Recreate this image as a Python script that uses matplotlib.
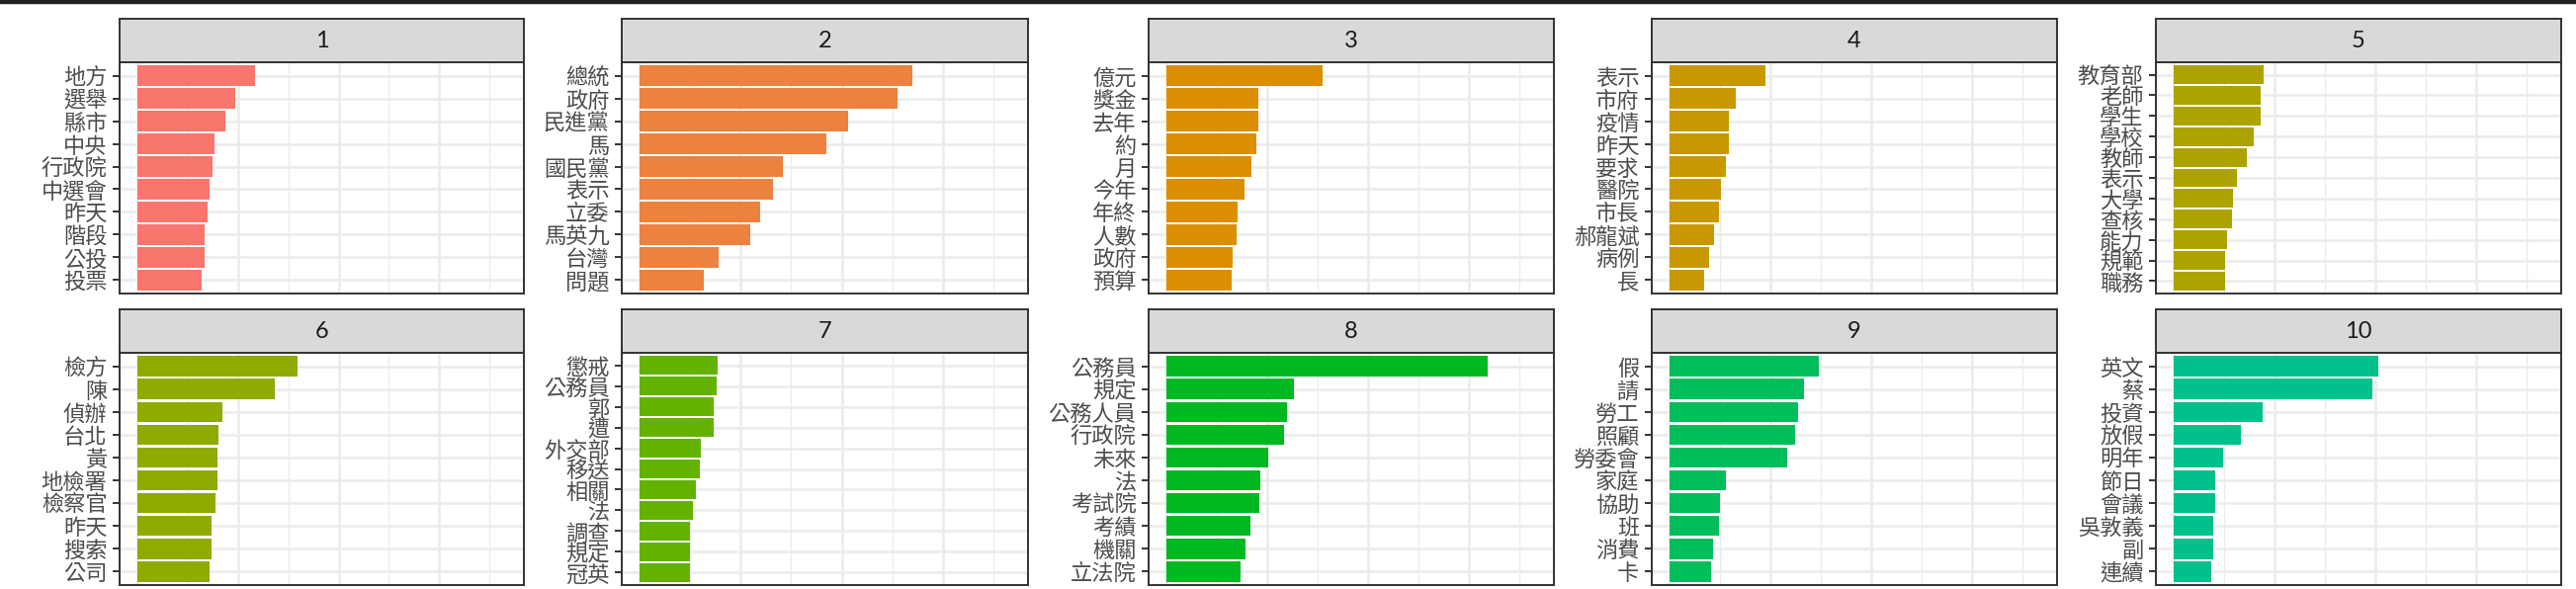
import numpy as np
import matplotlib
matplotlib.use("Agg")
import matplotlib.pyplot as plt
from matplotlib.patches import Rectangle

plt.rcParams['font.family'] = ['Noto Sans CJK TC', 'DejaVu Sans']

# top terms per topic (beta)
topics = ['1', '2', '3', '4', '5', '6', '7', '8', '9', '10']

terms_1 = ['地方', '選舉', '縣市', '中央', '行政院', '中選會', '昨天', '階段', '公投', '投票']
beta_1 = [0.01166, 0.0097, 0.00872, 0.00767, 0.00746, 0.00718, 0.00697, 0.00669, 0.00669, 0.00637]

terms_2 = ['總統', '政府', '民進黨', '馬', '國民黨', '表示', '立委', '馬英九', '台灣', '問題']
beta_2 = [0.02695, 0.02547, 0.02063, 0.01849, 0.01418, 0.01319, 0.01189, 0.01091, 0.00779, 0.00639]

terms_3 = ['億元', '獎金', '去年', '約', '月', '今年', '年終', '人數', '政府', '預算']
beta_3 = [0.01551, 0.00912, 0.00912, 0.00895, 0.00846, 0.00775, 0.00705, 0.00698, 0.00656, 0.00649]

terms_4 = ['表示', '市府', '疫情', '昨天', '要求', '醫院', '市長', '郝龍斌', '病例', '長']
beta_4 = [0.0095, 0.00657, 0.00589, 0.00589, 0.00559, 0.00508, 0.00492, 0.00441, 0.00391, 0.00343]

terms_5 = ['教育部', '老師', '學生', '學校', '教師', '表示', '大學', '查核', '能力', '規範', '職務']
beta_5 = [0.00892, 0.00863, 0.00863, 0.00794, 0.00725, 0.00627, 0.00588, 0.00578, 0.00529, 0.0051, 0.0051]

terms_6 = ['檢方', '陳', '偵辦', '台北', '黃', '地檢署', '檢察官', '昨天', '搜索', '公司']
beta_6 = [0.0159, 0.01363, 0.00844, 0.00806, 0.00795, 0.00795, 0.00774, 0.00736, 0.00736, 0.00718]

terms_7 = ['懲戒', '公務員', '郭', '遭', '外交部', '移送', '相關', '法', '調查', '規定', '冠英']
beta_7 = [0.00768, 0.00758, 0.00737, 0.00737, 0.0061, 0.006, 0.00561, 0.00533, 0.00502, 0.00502, 0.00502]

terms_8 = ['公務員', '規定', '公務人員', '行政院', '未來', '法', '考試院', '考績', '機關', '立法院']
beta_8 = [0.03182, 0.01267, 0.01196, 0.01168, 0.01011, 0.00933, 0.00923, 0.00835, 0.00786, 0.00737]

terms_9 = ['假', '請', '勞工', '照顧', '勞委會', '家庭', '協助', '班', '消費', '卡']
beta_9 = [0.01478, 0.0133, 0.01273, 0.01242, 0.01165, 0.00559, 0.00498, 0.00492, 0.00431, 0.00411]

terms_10 = ['英文', '蔡', '投資', '放假', '明年', '節日', '會議', '吳敦義', '副', '連續']
beta_10 = [0.02029, 0.01971, 0.00882, 0.00667, 0.0049, 0.00412, 0.00412, 0.00392, 0.00392, 0.00373]

all_terms = [terms_1, terms_2, terms_3, terms_4, terms_5,
             terms_6, terms_7, terms_8, terms_9, terms_10]
all_beta = [beta_1, beta_2, beta_3, beta_4, beta_5,
            beta_6, beta_7, beta_8, beta_9, beta_10]
colors = ['#F8766D', '#ED813E', '#DB8E00', '#C99800', '#AEA200',
          '#8FAA00', '#64B200', '#00B81F', '#00BD5C', '#00C08B']

W, H = 2606, 596
fig = plt.figure(figsize=(W / 100, H / 100), dpi=100)

# panel geometry in pixels
col_x = [(121, 530), (629, 1040), (1162, 1572), (1671, 2081), (2181, 2591)]
row_y = [(19, 63, 297), (313, 357, 592)]

for i, topic in enumerate(topics):
    r, c = i // 5, i % 5
    x0, x1 = col_x[c]
    yt, ys, yb = row_y[r]
    terms = all_terms[i]
    vals = all_beta[i]
    n = len(terms)

    ax = fig.add_axes([x0 / W, 1 - yb / H, (x1 - x0) / W, (yb - ys) / H])
    y = np.arange(n)[::-1]
    ax.barh(y, vals, height=0.9, color=colors[i], zorder=3)
    ax.set_yticks(y)
    ax.set_yticklabels(terms, fontsize=16, color='#4D4D4D')
    ax.set_ylim(-0.6, n - 0.4)
    ax.set_xlim(-0.00175, 0.0384)
    ax.set_xticks([0, 0.01, 0.02, 0.03])
    ax.set_xticks([0.005, 0.015, 0.025, 0.035], minor=True)
    ax.grid(which='major', color='#EBEBEB', lw=1.8, zorder=0)
    ax.grid(which='minor', axis='x', color='#EBEBEB', lw=0.9, zorder=0)
    ax.set_axisbelow(True)
    ax.tick_params(axis='x', which='both', length=0, labelbottom=False)
    ax.tick_params(axis='y', length=5, width=1.4, color='#333333', pad=4)
    for s in ax.spines.values():
        s.set_color('#333333')
        s.set_linewidth(1.4)

    st = fig.add_axes([x0 / W, 1 - ys / H, (x1 - x0) / W, (ys - yt) / H])
    st.set_facecolor('#D9D9D9')
    st.set_xticks([])
    st.set_yticks([])
    for s in st.spines.values():
        s.set_color('#333333')
        s.set_linewidth(1.4)
    st.text(0.5, 0.5, topic, ha='center', va='center', fontsize=17,
            color='#1A1A1A', family='Lato', transform=st.transAxes)

# dark band along the top edge
fig.patches.append(Rectangle((0, 1 - 3 / H), 1, 3 / H, transform=fig.transFigure,
                             color='#222222', zorder=10))

fig.savefig('out.png', dpi=100)
